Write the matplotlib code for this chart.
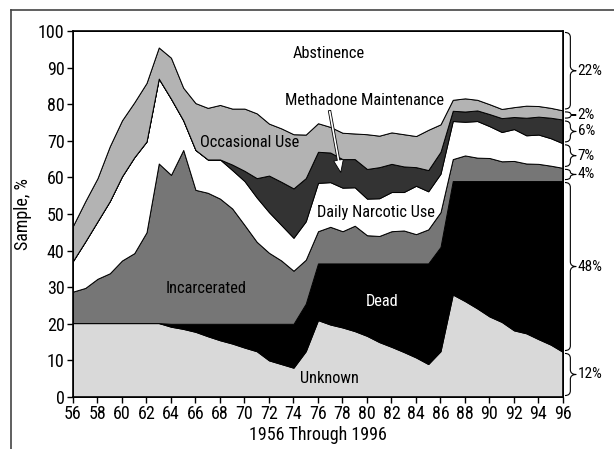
import matplotlib
matplotlib.use("Agg")
import matplotlib.pyplot as plt
import numpy as np
from matplotlib.path import Path
from matplotlib.patches import PathPatch
from matplotlib.lines import Line2D
import matplotlib.transforms as mtransforms

plt.rcParams['font.family'] = ['Roboto Condensed', 'DejaVu Sans']

years = list(range(56, 97))

# cumulative tops of each band (percent of sample)
unknown_top = [20.2, 20.2, 20.2, 20.2, 20.2, 20.2, 20.2, 20.2, 19.2, 18.6,
               17.8, 16.6, 15.5, 14.6, 13.5, 12.5, 10.0, 9.0, 8.0, 12.5,
               21.0, 19.8, 19.0, 18.0, 16.7, 15.0, 13.7, 12.3, 10.8, 9.0,
               12.5, 28.0, 26.2, 24.2, 22.0, 20.5, 18.2, 17.4, 15.8, 14.3, 12.3]
dead_top = [20.2, 20.2, 20.2, 20.2, 20.2, 20.2, 20.2, 20.2, 20.0, 20.0,
            20.0, 20.0, 20.0, 20.0, 20.0, 20.0, 20.0, 20.0, 20.0, 25.5,
            36.5, 36.5, 36.5, 36.5, 36.5, 36.5, 36.5, 36.5, 36.5, 36.5,
            41.0, 59.0, 59.0, 59.0, 59.0, 59.0, 59.0, 59.0, 59.0, 59.0, 59.0]
incarcerated_top = [28.8, 29.8, 32.3, 33.8, 37.3, 39.3, 45.0, 63.8, 60.7, 67.5,
                    56.6, 55.8, 54.2, 51.5, 47.0, 42.4, 39.4, 37.3, 34.5, 37.5,
                    45.3, 46.5, 45.3, 46.8, 44.2, 44.0, 45.3, 45.5, 44.5, 45.8,
                    50.5, 65.0, 66.0, 65.4, 65.3, 64.4, 64.5, 63.8, 63.7, 63.2, 62.6]
daily_top = [37.2, 42.5, 48.0, 53.5, 60.3, 65.5, 69.8, 87.0, 81.5, 75.6,
             67.5, 64.9, 64.9, 62.0, 59.0, 54.5, 50.5, 47.0, 43.5, 48.0,
             58.5, 58.7, 57.2, 57.3, 54.2, 54.3, 56.0, 56.0, 57.7, 56.2,
             61.0, 75.4, 75.2, 75.4, 74.0, 72.4, 73.2, 71.5, 71.7, 70.7, 69.3]
methadone_top = [37.2, 42.5, 48.0, 53.5, 60.3, 65.5, 69.8, 87.0, 81.5, 75.6,
                 67.5, 64.9, 64.9, 63.5, 61.8, 59.8, 60.5, 58.8, 57.0, 59.8,
                 67.0, 66.8, 65.0, 65.0, 62.3, 62.8, 63.7, 63.0, 62.8, 62.0,
                 67.0, 78.2, 78.0, 78.3, 77.3, 76.2, 76.5, 76.3, 76.6, 76.3, 75.8]
occasional_top = [46.8, 53.5, 59.8, 68.5, 75.6, 80.5, 85.8, 95.5, 92.7, 84.5,
                  80.3, 79.0, 79.8, 78.8, 78.8, 77.5, 74.7, 73.4, 71.8, 71.7,
                  74.8, 73.8, 72.2, 72.0, 71.8, 71.4, 72.3, 71.8, 71.3, 73.0,
                  74.5, 81.2, 81.6, 81.2, 80.0, 78.7, 79.2, 79.6, 79.5, 79.0, 78.3]
abstinence_top = [100.0] * len(years)

band_names = ["Unknown", "Dead", "Incarcerated", "Daily Narcotic Use",
              "Methadone Maintenance", "Occasional Use", "Abstinence"]
band_colors = ["#d9d9d9", "#000000", "#767676", "#ffffff", "#333333", "#b3b3b3", "#ffffff"]

bracket_bounds = [0, 12.3, 59.0, 62.6, 69.3, 75.8, 78.3, 100]
bracket_labels = ["12%", "48%", "4%", "7%", "6%", "2%", "22%"]

fig = plt.figure(figsize=(6.14, 4.49), dpi=100)
ax = fig.add_axes([73/614, 1-397/449, (563-73)/614, (397-31)/449])

tops = [unknown_top, dead_top, incarcerated_top, daily_top, methadone_top,
        occasional_top, abstinence_top]
x = np.array(years)
lower = np.zeros(len(years))
for top, col in zip(tops, band_colors):
    top = np.array(top)
    ax.fill_between(x, lower, top, facecolor=col, edgecolor='black', linewidth=0.7, zorder=2)
    lower = top

ax.set_xlim(56, 96)
ax.set_ylim(0, 100)
ax.set_xticks(range(56, 97, 2))
ax.set_xticklabels([str(v) for v in range(56, 97, 2)])
ax.set_yticks(range(0, 101, 10))
ax.tick_params(axis='both', direction='out', length=4, width=1, labelsize=13, pad=2)
for s in ax.spines.values():
    s.set_linewidth(1.2)
    s.set_zorder(5)
ax.set_xlabel("1956 Through 1996", fontsize=13, labelpad=2)
ax.set_ylabel("Sample, %", fontsize=13, labelpad=4)

fs = 11.8
ax.text(76.9, 93.9, "Abstinence", ha='center', va='center', fontsize=fs, zorder=6)
ax.text(79.8, 80.9, "Methadone Maintenance", ha='center', va='center', fontsize=fs, zorder=6)
ax.text(70.4, 69.4, "Occasional Use", ha='center', va='center', fontsize=fs, zorder=6)
ax.text(80.7, 50.5, "Daily Narcotic Use", ha='center', va='center', fontsize=fs, zorder=6)
ax.text(66.9, 29.6, "Incarcerated", ha='center', va='center', fontsize=fs, zorder=6)
ax.text(81.2, 26.0, "Dead", ha='center', va='center', fontsize=fs, color='white', zorder=6)
ax.text(76.9, 5.1, "Unknown", ha='center', va='center', fontsize=fs, zorder=6)

ax.annotate("", xy=(77.9, 60.6), xytext=(76.9, 79.0),
            arrowprops=dict(arrowstyle="simple,head_length=0.9,head_width=0.7,tail_width=0.18",
                            fc='white', ec='black', lw=0.6), zorder=7)

# curly braces on the right
trans = mtransforms.blended_transform_factory(ax.transAxes, ax.transData)
x0, x1, x2 = 1.004, 1.015, 1.027
for i in range(len(bracket_labels)):
    lo = bracket_bounds[i] + 0.4
    hi = bracket_bounds[i + 1] - 0.4
    mid = (lo + hi) / 2
    r = min(1.3, (hi - lo) / 4)
    verts = [(x0, hi), (x1, hi), (x1, hi - r),
             (x1, mid + r),
             (x1, mid), (x2, mid),
             (x1, mid), (x1, mid - r),
             (x1, lo + r),
             (x1, lo), (x0, lo)]
    codes = [Path.MOVETO, Path.CURVE3, Path.CURVE3,
             Path.LINETO,
             Path.CURVE3, Path.CURVE3,
             Path.CURVE3, Path.CURVE3,
             Path.LINETO,
             Path.CURVE3, Path.CURVE3]
    p = PathPatch(Path(verts, codes), transform=trans, fill=False, lw=0.8,
                  ec='black', clip_on=False)
    ax.add_patch(p)
    ax.text(x2 + 0.003, mid, bracket_labels[i], transform=trans, ha='left', va='center',
            fontsize=11, clip_on=False)

# frame lines of the figure panel
fig.add_artist(Line2D([11/614, 1.0], [1-9.5/449, 1-9.5/449], transform=fig.transFigure,
                      color='#444444', lw=1.2))
fig.add_artist(Line2D([11/614, 11/614], [1-9.5/449, 0.0], transform=fig.transFigure,
                      color='#444444', lw=1.2))

fig.savefig("out.png", dpi=100)
